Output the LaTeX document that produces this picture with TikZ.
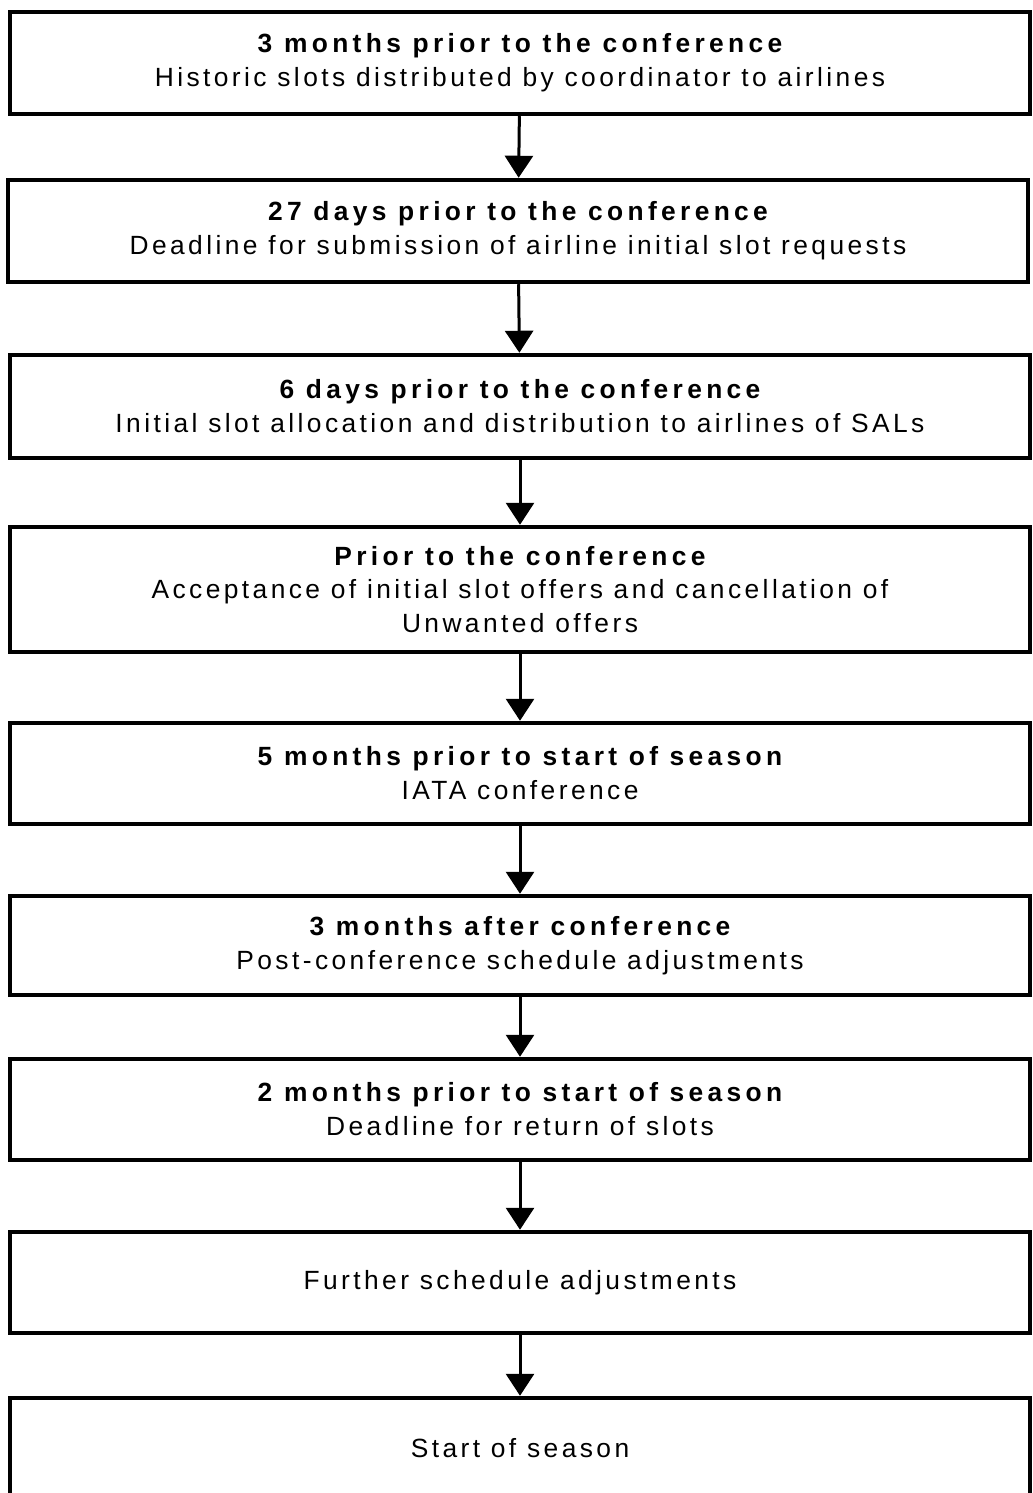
\documentclass[tikz,border=0pt]{standalone}
\usepackage{fontspec}
\usepackage{tikz}
\setmainfont{Liberation Sans}[LetterSpace=13]
\usetikzlibrary{arrows.meta}
\newcommand\stagehead[1]{{\bfseries\addfontfeature{LetterSpace=16.5}#1}}

\begin{document}
\begin{tikzpicture}[x=0.02cm,y=-0.02cm,
  stage/.style={draw,line width=0.09cm,minimum width=20.4cm,inner sep=0pt,
    align=center,font=\fontsize{15}{19.3}\selectfont},
  flow/.style={line width=0.06cm,-{Triangle[width=0.56cm,length=0.44cm]}}]
\useasboundingbox (0,0) rectangle (1033,1493);
\node[stage,minimum height=2.04cm] (hist) at (520,63)
  {\stagehead{3 months prior to the conference}\\Historic slots distributed by coordinator to airlines};
\node[stage,minimum height=2.04cm] (req) at (518,231)
  {\stagehead{27 days prior to the conference}\\Deadline for submission of airline initial slot requests};
\node[stage,minimum height=2.06cm] (alloc) at (520,406.5)
  {\stagehead{6 days prior to the conference}\\Initial slot allocation and distribution to airlines of SALs};
\node[stage,minimum height=2.5cm] (accept) at (520,589.5)
  {\stagehead{Prior to the conference}\\Acceptance of initial slot offers and cancellation of\\Unwanted offers};
\node[stage,minimum height=2.02cm] (iata) at (520,773.5)
  {\stagehead{5 months prior to start of season}\\IATA conference};
\node[stage,minimum height=1.98cm] (post) at (520,945.5)
  {\stagehead{3 months after conference}\\Post-conference schedule adjustments};
\node[stage,minimum height=2.02cm] (ret) at (520,1109.5)
  {\stagehead{2 months prior to start of season}\\Deadline for return of slots};
\node[stage,minimum height=2.02cm] (further) at (520,1282.5) {Further schedule adjustments};
\node[stage,minimum height=2.0cm] (start) at (520,1448) {Start of season};
% connectors
\draw[flow] (hist) -- (req);
\draw[flow] (req) -- (alloc);
\draw[flow] (alloc) -- (accept);
\draw[flow] (accept) -- (iata);
\draw[flow] (iata) -- (post);
\draw[flow] (post) -- (ret);
\draw[flow] (ret) -- (further);
\draw[flow] (further) -- (start);
\end{tikzpicture}
\end{document}
